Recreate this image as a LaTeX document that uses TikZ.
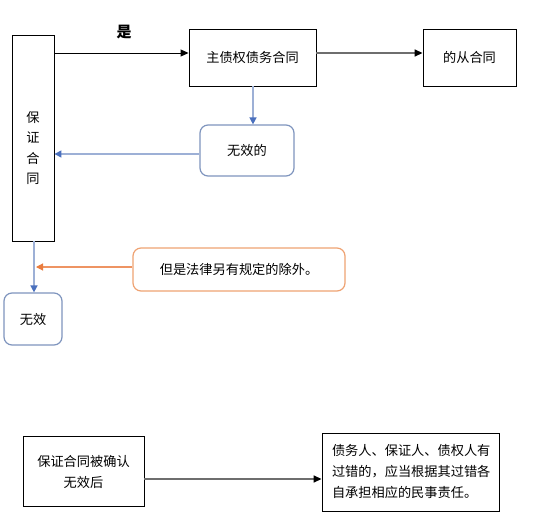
\documentclass[tikz,border=0pt]{standalone}
\usepackage{fontspec}
\setmainfont{Noto Sans CJK SC}
\usetikzlibrary{arrows.meta,positioning,calc}
\definecolor{bluebd}{HTML}{7F95BE}
\definecolor{blueln}{HTML}{9DB0D6}
\definecolor{bluetip}{HTML}{4A70BE}
\definecolor{orangebd}{HTML}{EFA373}
\definecolor{orangeln}{HTML}{EE9463}
\definecolor{orangetip}{HTML}{EA7C3E}
\definecolor{grayln}{HTML}{6E6E6E}
\tikzset{
  txt/.style={font=\fontsize{13.2}{21}\selectfont},
  plainbox/.style={draw=black, line width=0.9pt, minimum width=#1, inner sep=0pt, align=center, txt},
  bluebox/.style={draw=bluebd, line width=1.2pt, rounded corners=8pt, inner sep=0pt, align=center, txt},
  orangebox/.style={draw=orangebd, line width=1.2pt, rounded corners=8pt, inner sep=0pt, align=center, txt},
  blackarrow/.style={draw=black, line width=0.9pt, -{Triangle[length=8pt,width=7pt]}},
  grayarrow/.style={draw=grayln, line width=1.5pt, -{Triangle[length=8pt,width=7pt,color=black]}},
  bluearrow/.style={draw=blueln, line width=1.4pt, -{Triangle[length=7pt,width=7pt,color=bluetip]}},
  orangearrow/.style={draw=orangeln, line width=1.1pt, -{Triangle[length=7pt,width=7pt,color=orangetip]}},
}
\begin{document}
\begin{tikzpicture}[x=1pt,y=-1pt]
\useasboundingbox (0,0) rectangle (537,518);
\fill[white] (0,0) rectangle (537,518);

\node[plainbox=42pt, minimum height=206pt,
  label={[name=bzt, align=center, font=\fontsize{13.2}{20.5}\selectfont, yshift=-10pt]center:保\\证\\合\\同}] (bz) at (33,138) {};
\node[plainbox=127pt, minimum height=57pt] (zz) at (252.5,57.5) {主债权债务合同};
\node[plainbox=93pt, minimum height=57pt] (cong) at (469.5,57.5) {的从合同};
\node[bluebox, minimum width=94pt, minimum height=51pt] (wxd) at (247,150.5) {无效的};
\node[orangebox, minimum width=212pt, minimum height=43pt] (fl) at (239,269.5) {但是法律另有规定的除外。};
\node[bluebox, minimum width=58pt, minimum height=52pt] (wx) at (33,319) {无效};
\node[plainbox=121pt, minimum height=70pt] (b1) at (83.5,471.5) {保证合同被确认\\无效后};
\node[plainbox=177pt, minimum height=78pt, text width=157pt, align=left, inner xsep=10pt] (b2) at (410.5,472) {债务人、保证人、债权人有\\过错的，应当根据其过错各\\自承担相应的民事责任。};

\node[font=\bfseries\fontsize{15}{15}\selectfont] (shi) at (124,32) {是};

\coordinate (ya) at (0,53);
\coordinate (xa) at (253,0);
\coordinate (yb) at (0,154);
\coordinate (xc) at (34,0);
\coordinate (yd) at (0,267);
\coordinate (od) at (36,267);
\coordinate (ye) at (0,479);

\draw[blackarrow] (bz.east |- ya) -- (zz.west |- ya);
\draw[grayarrow] (zz.east |- ya) -- (cong.west |- ya);
\draw[bluearrow] (zz.south -| xa) -- (wxd.north -| xa);
\draw[bluearrow] (wxd.west |- yb) -- (bz.east |- yb);
\draw[bluearrow] (bz.south -| xc) -- (wx.north -| xc);
\draw[orangearrow] (fl.west |- yd) -- (od);
\draw[grayarrow] (b1.east |- ye) -- (b2.west |- ye);
\end{tikzpicture}
\end{document}
